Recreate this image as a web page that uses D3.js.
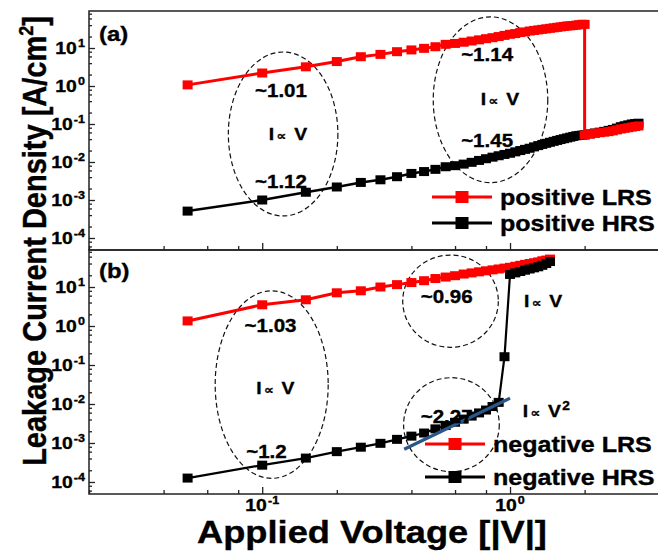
<!DOCTYPE html>
<html>
<head>
  <meta charset="utf-8">
  <title>Leakage Current Density vs Applied Voltage</title>
  <script src="https://d3js.org/d3.v7.min.js"></script>
  <style>
    body { margin: 0; background: #fff; }
    svg text { font-family: "Liberation Sans", Arial, "DejaVu Sans", sans-serif; font-weight: bold;
               fill: #000; stroke: #000; stroke-width: 0.35px; }
  </style>
</head>
<body>
<script>

// ---- data ----
var posLrsV = [0.05,0.1,0.15,0.2,0.25,0.3,0.35,0.4,0.45,0.5,0.55,0.6,0.65,0.7,0.75,0.8,0.85,0.9,0.95,1.0,
               1.05,1.1,1.15,1.2,1.25,1.3,1.35,1.4,1.45,1.5,1.55,1.6,1.65,1.7,1.75,1.8,1.85,1.9,1.95,2.0,
               2.0,2.1,2.2,2.3,2.4,2.5,2.6,2.7,2.8,2.9,3.0,3.1,3.2,3.3];
var posLrsJ = [1.07,2.2,3.2,4.4,5.9,6.8,8.0,8.9,9.8,10.8,12.5,13.2,14.2,15.3,16.4,17.6,18.7,20.0,21.5,23,
               24,25.5,26.5,28,29,30,31,32,33,34,35,36,37,38,38.5,39,40,41,42,42,
               0.051,0.054,0.057,0.059,0.061,0.063,0.066,0.070,0.074,0.077,0.080,0.083,0.086,0.089];

var posHrsV = [0.05,0.1,0.15,0.2,0.25,0.3,0.35,0.4,0.45,0.5,0.55,0.6,0.65,0.7,0.75,0.8,0.85,0.9,0.95,1.0,
               1.05,1.1,1.15,1.2,1.25,1.3,1.35,1.4,1.45,1.5,1.55,1.6,1.65,1.7,1.75,1.8,1.85,1.9,1.95,2.0,
               2.1,2.2,2.3,2.4,2.5,2.6,2.7,2.8,2.9,3.0,3.1,3.2,3.3];
var posHrsJ = [5.1e-4,1.0e-3,1.6e-3,2.2e-3,2.9e-3,3.4e-3,4.1e-3,5.0e-3,5.6e-3,6.4e-3,7.5e-3,8.0e-3,8.8e-3,9.8e-3,
               0.011,0.0122,0.0134,0.0146,0.0158,0.017,0.0185,0.020,0.0215,0.023,0.025,0.027,0.029,0.031,0.033,
               0.035,0.037,0.039,0.041,0.043,0.045,0.047,0.049,0.050,0.051,0.052,
               0.055,0.058,0.061,0.064,0.068,0.072,0.078,0.085,0.090,0.095,0.100,0.103,0.105];

var negLrsV = [0.05,0.1,0.15,0.2,0.25,0.3,0.35,0.4,0.45,0.5,0.55,0.6,0.65,0.7,0.75,0.8,0.85,0.9,0.95,1.0,
               1.05,1.1,1.15,1.2,1.25,1.3,1.35,1.4,1.45];
var negLrsJ = [1.35,3.5,4.7,7.1,8.0,10,11.5,13,14.5,16.5,18,19.5,21.5,23,24.5,26,27.5,29,30.5,32,
               34,36,38,40,42,44,47,49,52];

var negHrsV = [0.05,0.1,0.15,0.2,0.25,0.3,0.35,0.4,0.45,0.5,0.55,0.6,0.65,0.7,0.75,0.8,0.85,0.9,0.95,1.0,
               1.05,1.1,1.15,1.2,1.25,1.3,1.35,1.4,1.45];
var negHrsJ = [1.26e-4,2.7e-4,4.1e-4,6.0e-4,7.8e-4,9.8e-4,1.24e-3,1.5e-3,1.8e-3,2.3e-3,2.8e-3,3.4e-3,4.1e-3,
               4.9e-3,5.9e-3,7.0e-3,8.6e-3,0.011,0.163,21,23,25,27,29,31,33,36,40,45];

// fitted I ~ V^2 segment
var fitV = [0.374, 1.0];
var fitJ = [6.9e-4, 0.0141];

// axis values
var xDomain = [0.02, 4.34];
var yDomainA = [4.83e-5, 94.2];
var yDomainB = [4.92e-5, 88.9];
var xMajor = [0.1, 1];
var xMinor = [0.02,0.04,0.06,0.08,0.2,0.4,0.6,0.8,2,4];
var xLabels = ["-1", "0"];
var yMajor = [1e-4,1e-3,1e-2,1e-1,1,10];
var yLabels = ["-4","-3","-2","-1","0","1"];
var yMinor = [2e-5,4e-5,6e-5,8e-5,2e-4,4e-4,6e-4,8e-4,2e-3,4e-3,6e-3,8e-3,2e-2,4e-2,6e-2,8e-2,
              0.2,0.4,0.6,0.8,2,4,6,8,20,40,60,80];

// dashed ovals: [V left, V right, J top, J bottom]
var ovalsA = [[0.073, 0.202, 7.85, 3.8e-4], [0.49, 1.42, 66, 2.85e-3]];
var ovalsB = [[0.0646, 0.1846, 8.0, 1.24e-4], [0.369, 0.897, 66, 0.284], [0.372, 0.905, 0.0472, 1.84e-4]];

// slope notes: [text, V, J]
var notesA = [["~1.01", 0.119, 0.514], ["~1.12", 0.119, 2.07e-3], ["~1.14", 0.808, 4.63], ["~1.45", 0.808, 0.0253]];
var notesB = [["~1.03", 0.108, 0.714], ["~1.2", 0.104, 4.05e-4], ["~0.96", 0.555, 3.82], ["~2.27", 0.555, 3.2e-3]];
// "I ∝ V" notes: [power, V, J]
var lawsA = [["", 0.127, 0.038], ["", 0.911, 0.316]];
var lawsB = [["", 0.113, 0.0177], ["", 1.36, 3.01], ["2", 1.40, 4.72e-3]];

var legendA = ["positive LRS", "positive HRS"];
var legendB = ["negative LRS", "negative HRS"];

// ---- layout ----
var W = 658, H = 552;
var SX = 1.14;              // the source figure is stretched horizontally
var left = 89, right = 668; // right frame lies outside the picture

var svg = d3.select("body").append("svg")
    .attr("width", W)
    .attr("height", H);

var x = d3.scaleLog().domain(xDomain).range([left, right]);

function stretched(g, tx, ty, size, anchor, sx) {
  return g.append("text")
      .attr("transform", "translate(" + tx + "," + ty + ") scale(" + (sx || SX) + ",1)")
      .attr("text-anchor", anchor || "middle")
      .style("font-size", size + "px");
}

function drawPanel(p) {
  var y = d3.scaleLog().domain(p.yDomain).range([p.bottom, p.top]);
  var g = svg.append("g");

  // ovals
  p.ovals.forEach(function(o) {
    var x0 = x(o[0]), x1 = x(o[1]), y0 = y(o[2]), y1 = y(o[3]);
    g.append("ellipse")
        .attr("cx", (x0 + x1) / 2).attr("cy", (y0 + y1) / 2)
        .attr("rx", (x1 - x0) / 2).attr("ry", (y1 - y0) / 2)
        .attr("fill", "none").attr("stroke", "#111")
        .attr("stroke-width", 1.2).attr("stroke-dasharray", "5,3");
  });

  var line = d3.line().x(function(d){ return x(d[0]); }).y(function(d){ return y(d[1]); });

  p.series.forEach(function(s) {
    var pts = s.v.map(function(v, i){ return [v, s.j[i]]; });
    g.append("path").datum(pts)
        .attr("d", line)
        .attr("fill", "none").attr("stroke", s.color).attr("stroke-width", s.width);
    if (s.marker) {
      g.append("g").selectAll("rect").data(pts).join("rect")
          .attr("x", function(d){ return x(d[0]) - 5; })
          .attr("y", function(d){ return y(d[1]) - 4.5; })
          .attr("width", 10).attr("height", 9)
          .attr("fill", s.color);
    }
  });

  // slope notes
  p.notes.forEach(function(n) {
    stretched(g, x(n[1]), y(n[2]), 18).text(n[0]);
  });
  p.laws.forEach(function(n) {
    var t = stretched(g, x(n[1]), y(n[2]), 17);
    t.append("tspan").text("I");
    t.append("tspan").attr("dx", 2).style("font-size", "12px").text("\u221D");
    t.append("tspan").attr("dx", 7).text("V");
    if (n[0]) t.append("tspan").attr("dx", 1).attr("dy", -7).style("font-size", "12px").text(n[0]);
  });

  // frame
  svg.append("rect")
      .attr("x", left).attr("y", p.top)
      .attr("width", right - left).attr("height", p.bottom - p.top)
      .attr("fill", "none").attr("stroke", "#222").attr("stroke-width", 1.5);

  // y axis ticks (inward)
  var ya = svg.append("g").attr("transform", "translate(" + left + ",0)");
  ya.call(d3.axisLeft(y).tickValues(yMajor).tickSize(-6).tickSizeOuter(0).tickFormat(""));
  ya.append("g").call(d3.axisLeft(y).tickValues(yMinor.filter(function(v){
      return v > p.yDomain[0] && v < p.yDomain[1]; })).tickSize(-3).tickSizeOuter(0).tickFormat(""));
  ya.selectAll(".domain").remove();
  ya.selectAll("line").attr("stroke", "#222").attr("stroke-width", 1.3);

  ya.selectAll(".ylab").data(yMajor).join("text")
      .attr("class", "ylab")
      .attr("text-anchor", "end")
      .attr("transform", function(d){ return "translate(-4," + (y(d) + 6) + ") scale(" + SX + ",1)"; })
      .style("font-size", "17px")
      .each(function(d, i) {
        var t = d3.select(this);
        t.append("tspan").text("10");
        t.append("tspan").attr("dx", 1).attr("dy", -7).style("font-size", "11px").text(yLabels[i]);
      });

  // x axis ticks at the bottom of the panel (inward)
  var xa = svg.append("g").attr("transform", "translate(0," + p.bottom + ")");
  xa.call(d3.axisBottom(x).tickValues(xMajor).tickSize(-7).tickSizeOuter(0).tickFormat(""));
  xa.append("g").call(d3.axisBottom(x).tickValues(xMinor).tickSize(-4).tickSizeOuter(0).tickFormat(""));
  xa.selectAll(".domain").remove();
  xa.selectAll("line").attr("stroke", "#222").attr("stroke-width", 1.3);

  if (p.xLabels) {
    xa.selectAll(".xlab").data(xMajor).join("text")
        .attr("class", "xlab")
        .attr("text-anchor", "middle")
        .attr("transform", function(d){ return "translate(" + x(d) + ",17) scale(" + SX + ",1)"; })
        .style("font-size", "17px")
        .each(function(d, i) {
          var t = d3.select(this);
          t.append("tspan").text("10");
          t.append("tspan").attr("dx", 1).attr("dy", -7).style("font-size", "11px").text(xLabels[i]);
        });
  }

  // panel tag
  stretched(svg, 99, p.tagY, 21, "start").text(p.tag);

  // legend
  p.legend.forEach(function(name, i) {
    var s = p.series[p.legendOrder[i]];
    var ly = p.legendY[i];
    svg.append("line")
        .attr("x1", p.legendX).attr("x2", p.legendX + 60)
        .attr("y1", ly - 8).attr("y2", ly - 8)
        .attr("stroke", s.color).attr("stroke-width", 3);
    svg.append("rect")
        .attr("x", p.legendX + 30 - 6.5).attr("y", ly - 14)
        .attr("width", 13).attr("height", 12)
        .attr("fill", s.color);
    stretched(svg, p.legendX + 68, ly, 22, "start").text(name);
  });
}

drawPanel({
  top: 11, bottom: 250, yDomain: yDomainA, ovals: ovalsA, notes: notesA, laws: lawsA,
  series: [
    {v: posHrsV, j: posHrsJ, color: "#000", width: 2.5, marker: true},
    {v: posLrsV, j: posLrsJ, color: "#ff0000", width: 3, marker: true}
  ],
  legend: legendA, legendOrder: [1, 0], legendX: 432, legendY: [205, 231],
  tag: "(a)", tagY: 41, xLabels: false
});

drawPanel({
  top: 250, bottom: 494, yDomain: yDomainB, ovals: ovalsB, notes: notesB, laws: lawsB,
  series: [
    {v: negLrsV, j: negLrsJ, color: "#ff0000", width: 3, marker: true},
    {v: negHrsV, j: negHrsJ, color: "#000", width: 2.2, marker: true},
    {v: fitV, j: fitJ, color: "#2a5688", width: 3.2, marker: false}
  ],
  legend: legendB, legendOrder: [0, 1], legendX: 425, legendY: [452, 485],
  tag: "(b)", tagY: 278, xLabels: true
});

// axis titles
stretched(svg, 372, 543, 31, "middle", 1.17).text("Applied Voltage [|V|]");

var yt = svg.append("text")
    .attr("transform", "translate(46,241) rotate(-90) scale(1," + SX + ")")
    .attr("text-anchor", "middle")
    .style("font-size", "29px");
yt.append("tspan").text("Leakage Current Density [A/cm");
yt.append("tspan").attr("dy", -11).style("font-size", "18px").text("2");
yt.append("tspan").attr("dy", 11).text("]");

</script>
</body>
</html>
